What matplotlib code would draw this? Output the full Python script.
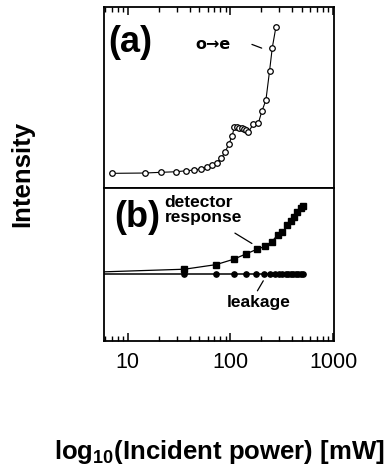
import numpy as np
import matplotlib
matplotlib.use("Agg")
import matplotlib.pyplot as plt
from matplotlib.ticker import LogLocator, NullFormatter, FixedLocator, FixedFormatter

plt.rcParams["font.family"] = ["Liberation Sans", "DejaVu Sans"]
plt.rcParams["mathtext.fontset"] = "custom"
plt.rcParams["mathtext.bf"] = "Liberation Sans:bold"
plt.rcParams["mathtext.rm"] = "Liberation Sans"

# (a) o->e signal vs incident power (mW), arbitrary intensity units
power_a = [7.1, 14.6, 20.9, 29.7, 37.2, 44.7, 52, 58.9, 66.4, 73.6, 81.8, 88.9,
           97.1, 104, 109.5, 116, 122, 128.8, 134.7, 142, 149.6, 167, 187, 203,
           222, 241, 256, 278]
signal_a = [14.7, 15, 15.7, 16.3, 17.3, 18, 19.3, 20.7, 22.7, 25.3, 30, 36.3,
            44.3, 52.3, 61, 61, 60.3, 59.7, 58.7, 58, 55.7, 64, 64.7, 77,
            88, 117.3, 140.3, 161.3]

# (b) detector response and leakage (first entry = zero-power baseline, off axis)
power_det = [1, 35.7, 72.6, 107.7, 142, 180, 216, 254, 288, 322, 360, 388, 418,
             450, 485, 512]
detector = [66.5, 71.7, 76.3, 81.7, 87, 91.5, 94.5, 99.3, 106, 108.7, 116, 120,
            124.3, 129.3, 133.3, 135.3]
power_leak = [1, 35.7, 72.6, 107.7, 142, 177, 213, 245, 270, 300, 322, 347, 368,
              388, 411, 433, 460, 485, 512]
leakage = [66.5] * len(power_leak)

xticks = [10, 100, 1000]
xticklabels = ["10", "100", "1000"]

fig = plt.figure(figsize=(3.86, 4.76), dpi=100)
ax_a = fig.add_axes([0.269, 0.605, 0.596, 0.380])
ax_b = fig.add_axes([0.269, 0.284, 0.596, 0.321])

for ax in (ax_a, ax_b):
    ax.set_xscale("log")
    ax.set_xlim(5.85, 1020)
    for s in ax.spines.values():
        s.set_linewidth(1.3)
    ax.set_yticks([])
    ax.xaxis.set_major_locator(FixedLocator(xticks))
    ax.xaxis.set_major_formatter(FixedFormatter(xticklabels))
    ax.xaxis.set_minor_locator(LogLocator(base=10, subs=np.arange(2, 10), numticks=20))
    ax.xaxis.set_minor_formatter(NullFormatter())

ax_a.plot(power_a, signal_a, "-", color="black", lw=0.8, marker="o", ms=4,
          mfc="white", mec="black", mew=0.9)
ax_a.set_ylim(0, 181)

ax_b.plot(power_det, detector, "-", color="black", lw=0.9, marker="s", ms=4,
          markevery=list(range(1, len(power_det))))
ax_b.plot(power_leak, leakage, "-", color="black", lw=1.1, marker="o", ms=3.8,
          markevery=list(range(1, len(power_leak))))
ax_b.set_ylim(0, 153)

# ticks: inward on top of (a) and bottom of (b)
ax_a.tick_params(axis="x", which="both", direction="in", top=True, bottom=False,
                 labelbottom=False, labeltop=False)
ax_b.tick_params(axis="x", which="both", direction="in", top=False, bottom=True,
                 labelbottom=True, labelsize=15.5, pad=8)
for ax in (ax_a, ax_b):
    ax.tick_params(axis="x", which="major", length=5.5, width=1.1)
    ax.tick_params(axis="x", which="minor", length=3.5, width=1.0)

# labels and annotations
ax_a.text(10.7, 146, "(a)", fontsize=26, fontweight="bold", ha="center", va="center")
ax_a.text(68.4, 144, "o\u2192e", fontsize=11.5, fontweight="bold", ha="center",
          va="center", family="DejaVu Sans")
ax_a.annotate("", xy=(214, 139), xytext=(153, 144.7),
              arrowprops=dict(arrowstyle="-", color="black", lw=0.9))

ax_b.text(12.5, 123, "(b)", fontsize=26, fontweight="bold", ha="center", va="center")
ax_b.text(22.9, 131, "detector\nresponse", fontsize=12.5, fontweight="bold",
          ha="left", va="center", linespacing=1.05)
ax_b.annotate("", xy=(171, 96), xytext=(105, 109.3),
              arrowprops=dict(arrowstyle="-", color="black", lw=0.9))
ax_b.text(187, 38, "leakage", fontsize=12.5, fontweight="bold", ha="center", va="center")
ax_b.annotate("", xy=(216, 62.5), xytext=(177.8, 47.7),
              arrowprops=dict(arrowstyle="-", color="black", lw=0.9))

fig.text(0.057, 0.634, "Intensity", rotation=90, fontsize=18.5, fontweight="bold",
         ha="center", va="center")
fig.text(0.567, 0.05, r"log$_{\mathbf{10}}$(Incident power) [mW]", fontsize=18.5,
         fontweight="bold", ha="center", va="center")

fig.savefig("out.png", dpi=100)
